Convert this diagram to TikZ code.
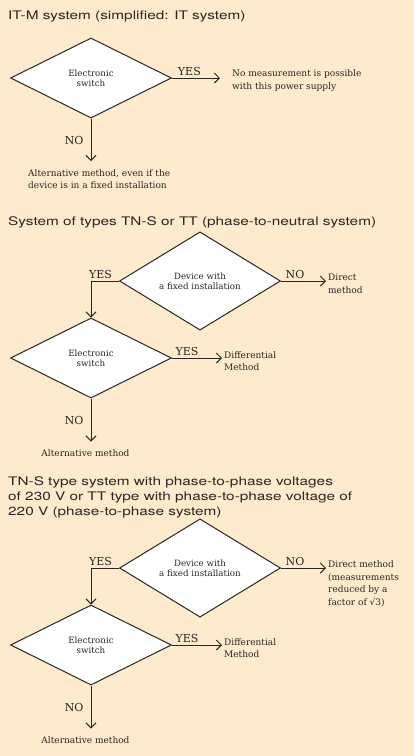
\documentclass[tikz,border=0pt]{standalone}
\usepackage{fontspec}
\setmainfont{DejaVu Serif}
\newfontfamily\headfont[FakeStretch=1.3]{TeX Gyre Heros}
\usetikzlibrary{shapes.geometric}
\usetikzlibrary{arrows.meta}

\definecolor{paper}{RGB}{254,234,205}
\definecolor{ink}{RGB}{42,38,36}

\tikzset{
  decision/.style={diamond, draw=ink, fill=white, line width=1pt,
    minimum width=161pt, minimum height=80pt, inner sep=0pt,
    align=center, text=ink, font=\fontsize{8.7}{10}\selectfont},
  result/.style={align=left, inner sep=2pt, text=ink,
    font=\fontsize{9}{12.5}\selectfont},
  answer/.style={inner sep=2pt, text=ink, font=\fontsize{11}{12}\selectfont},
  heading/.style={anchor=base west, inner sep=0pt, align=left, text=ink,
    font=\headfont\fontsize{11.8}{15}\selectfont},
  flow/.style={draw=ink, line width=1pt, -{Straight Barb[length=5pt,width=10pt]}}
}

\begin{document}
\begin{tikzpicture}[x=1pt,y=-1pt]
  \fill[paper] (0,0) rectangle (414,756);
  \useasboundingbox (0,0) rectangle (414,756);

  % IT-M system
  \node[heading] (head1) at (8,19.5) {IT-M system (simplified: IT system)};
  \node[decision] (sw1) at (91,78) {Electronic\\switch};
  \node[result, anchor=west] (res1) at (230,80.5)
    {No measurement is possible\\with this power supply};
  \node[result, anchor=north west] (alt1) at (26,167)
    {Alternative method, even if the\\device is in a fixed installation};
  \draw[flow, shorten >=10pt] (sw1.east) -- (sw1.east -| res1.west)
    node[answer, above, pos=0.3] {YES};
  \draw[flow, shorten >=6pt] (sw1.south) -- (sw1.south |- alt1.north)
    node[answer, left=5pt, pos=0.45] {NO};

  % TN-S or TT, phase-to-neutral
  \node[heading] (head2) at (8,225.3)
    {System of types TN-S or TT (phase-to-neutral system)};
  \node[decision] (dev2) at (200,281) {Device with\\a fixed installation};
  \node[decision] (sw2) at (91,358) {Electronic\\switch};
  \node[result, anchor=west] (dir2) at (326,283.5) {Direct\\method};
  \node[result, anchor=west] (diff2) at (222,361) {Differential\\Method};
  \node[result, anchor=north] (alt2) at (85.5,447.5) {Alternative method};
  \draw[flow] (dev2.east) -- (dev2.east -| dir2.west)
    node[answer, above, pos=0.31] {NO};
  \draw[flow] (dev2.west) -| (sw2.north)
    node[answer, above, pos=0.33] {YES};
  \draw[flow] (sw2.east) -- (sw2.east -| diff2.west)
    node[answer, above, pos=0.3] {YES};
  \draw[flow, shorten >=6pt] (sw2.south) -- (sw2.south |- alt2.north)
    node[answer, left=5pt, pos=0.45] {NO};

  % TN-S or TT, phase-to-phase
  \node[heading] (head3) at (8,515.7)
    {TN-S type system with phase-to-phase voltages\\of 230 V or TT type with phase-to-phase voltage of\\220 V (phase-to-phase system)};
  \node[decision] (dev3) at (200,568) {Device with\\a fixed installation};
  \node[decision] (sw3) at (91,645) {Electronic\\switch};
  \node[result, anchor=west] (dir3) at (326,584)
    {Direct method\\(measurements\\reduced by a\\factor of √3)};
  \node[result, anchor=west] (diff3) at (222,648) {Differential\\Method};
  \node[result, anchor=north] (alt3) at (85.5,734.5) {Alternative method};
  \draw[flow] (dev3.east) -- (dev3.east -| dir3.west)
    node[answer, above, pos=0.31] {NO};
  \draw[flow] (dev3.west) -| (sw3.north)
    node[answer, above, pos=0.33] {YES};
  \draw[flow] (sw3.east) -- (sw3.east -| diff3.west)
    node[answer, above, pos=0.3] {YES};
  \draw[flow, shorten >=6pt] (sw3.south) -- (sw3.south |- alt3.north)
    node[answer, left=5pt, pos=0.45] {NO};
\end{tikzpicture}
\end{document}
